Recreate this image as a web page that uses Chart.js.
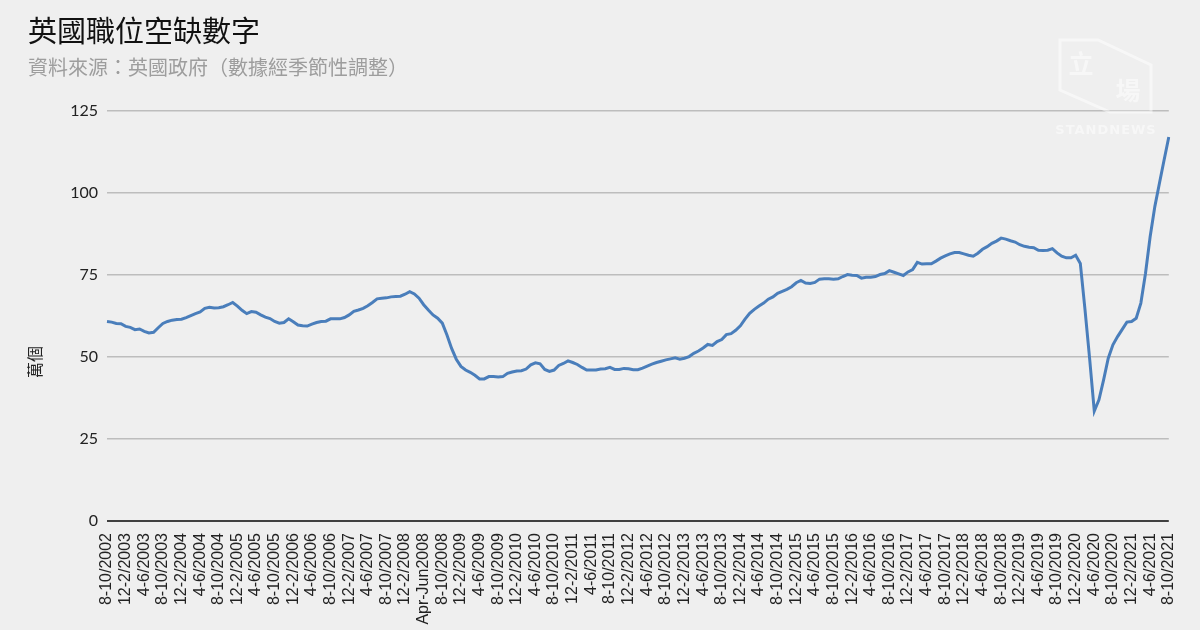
<!DOCTYPE html>
<html>
<head>
<meta charset="utf-8">
<script src="https://cdn.jsdelivr.net/npm/chart.js@4/dist/chart.umd.min.js"></script>
<style>
html,body{margin:0;padding:0;background:#efefef;}
#wrap{width:1200px;height:630px;position:relative;}
</style>
</head>
<body>
<div id="wrap"><canvas id="c" width="1200" height="630"></canvas></div>
<script>
const chartTitle = '英國職位空缺數字';
const chartSubtitle = '資料來源：英國政府（數據經季節性調整）';
const yAxisTitle = '萬個';
const yTicks = [0, 25, 50, 75, 100, 125];

// one label for every fourth rolling three-month period
const tickLabels = [
  '8-10/2002',
  '12-2/2003','4-6/2003','8-10/2003',
  '12-2/2004','4-6/2004','8-10/2004',
  '12-2/2005','4-6/2005','8-10/2005',
  '12-2/2006','4-6/2006','8-10/2006',
  '12-2/2007','4-6/2007','8-10/2007',
  '12-2/2008','Apr-Jun2008','8-10/2008',
  '12-2/2009','4-6/2009','8-10/2009',
  '12-2/2010','4-6/2010','8-10/2010',
  '12-2/2011','4-6/2011','8-10/2011',
  '12-2/2012','4-6/2012','8-10/2012',
  '12-2/2013','4-6/2013','8-10/2013',
  '12-2/2014','4-6/2014','8-10/2014',
  '12-2/2015','4-6/2015','8-10/2015',
  '12-2/2016','4-6/2016','8-10/2016',
  '12-2/2017','4-6/2017','8-10/2017',
  '12-2/2018','4-6/2018','8-10/2018',
  '12-2/2019','4-6/2019','8-10/2019',
  '12-2/2020','4-6/2020','8-10/2020',
  '12-2/2021','4-6/2021','8-10/2021'
];

// vacancies (ten-thousands), monthly rolling three-month periods, Aug-Oct 2002 .. Aug-Oct 2021
const vacancies = [
  60.8,60.6,60.2,60.1,59.3,59.0,58.3,58.5,57.8,57.3,57.5,58.9,
  60.2,60.8,61.2,61.4,61.5,62.0,62.6,63.2,63.7,64.8,65.1,64.9,
  65.0,65.3,65.9,66.6,65.5,64.2,63.2,63.8,63.6,62.8,62.1,61.7,
  60.8,60.3,60.5,61.6,60.7,59.7,59.5,59.4,60.0,60.5,60.8,60.9,
  61.6,61.6,61.6,62.0,62.8,63.9,64.3,64.8,65.6,66.6,67.7,67.9,
  68.0,68.3,68.4,68.5,69.1,69.9,69.2,67.9,65.9,64.3,62.8,61.8,
  60.3,56.7,52.6,49.3,47.1,46.0,45.3,44.4,43.3,43.3,44.0,44.0,
  43.9,44.0,45.0,45.4,45.7,45.8,46.3,47.6,48.2,47.9,46.2,45.6,
  46.0,47.4,48.0,48.8,48.3,47.7,46.8,46.0,46.0,46.0,46.3,46.4,
  46.8,46.2,46.2,46.5,46.4,46.1,46.1,46.6,47.2,47.8,48.3,48.7,
  49.1,49.4,49.7,49.3,49.6,50.1,51.1,51.8,52.7,53.8,53.5,54.7,
  55.3,56.8,57.1,58.1,59.5,61.5,63.3,64.5,65.5,66.4,67.6,68.3,
  69.4,70.0,70.6,71.4,72.6,73.3,72.5,72.4,72.7,73.7,73.8,73.8,
  73.7,73.8,74.5,75.1,74.9,74.8,74.0,74.3,74.3,74.5,75.1,75.4,
  76.3,75.8,75.3,74.8,75.9,76.6,78.8,78.3,78.4,78.4,79.2,80.1,
  80.8,81.4,81.8,81.8,81.4,81.0,80.7,81.6,82.8,83.6,84.6,85.3,
  86.2,85.9,85.4,85.0,84.2,83.7,83.4,83.3,82.5,82.4,82.5,83.0,
  81.7,80.7,80.2,80.2,81.0,78.5,64.5,49.5,33.5,36.9,43.0,49.6,
  53.7,56.2,58.4,60.6,60.8,61.8,66.4,75.5,86.7,95.8,103.0,110.1,
  117.0
];

const categories = vacancies.map((v, i) => (i % 4 === 0 ? tickLabels[i / 4] : ''));

const yTitlePlugin = {
  id: 'yTitlePlugin',
  afterDraw(chart) {
    const ctx = chart.ctx;
    ctx.save();
    ctx.translate(35, 362);
    ctx.rotate(-Math.PI / 2);
    ctx.font = "16px 'Noto Sans CJK TC'";
    ctx.fillStyle = '#222';
    ctx.textAlign = 'center';
    ctx.textBaseline = 'middle';
    ctx.fillText(yAxisTitle, 0, 0);
    ctx.restore();
  }
};

const watermarkPlugin = {
  id: 'watermarkPlugin',
  afterDraw(chart) {
    const ctx = chart.ctx;
    ctx.save();
    ctx.strokeStyle = 'rgba(255,255,255,0.5)';
    ctx.fillStyle = 'rgba(255,255,255,0.5)';
    ctx.lineWidth = 3;
    ctx.beginPath();
    ctx.moveTo(1060, 40);
    ctx.lineTo(1098, 40);
    ctx.lineTo(1151, 65);
    ctx.lineTo(1151, 112);
    ctx.lineTo(1110, 112);
    ctx.lineTo(1060, 90);
    ctx.closePath();
    ctx.stroke();
    ctx.font = "bold 25px 'Noto Sans CJK TC'";
    ctx.textAlign = 'center';
    ctx.textBaseline = 'middle';
    ctx.fillText('立', 1081, 63);
    ctx.fillText('場', 1128, 90);
    ctx.font = "bold 13px 'DejaVu Sans'";
    if ('letterSpacing' in ctx) ctx.letterSpacing = '1px';
    ctx.fillText('STANDNEWS', 1106, 131);
    ctx.restore();
  }
};

new Chart(document.getElementById('c'), {
  type: 'line',
  data: {
    labels: categories,
    datasets: [{
      data: vacancies,
      borderColor: '#4a7ebb',
      borderWidth: 3,
      pointRadius: 0,
      tension: 0,
      fill: false
    }]
  },
  options: {
    responsive: false,
    animation: false,
    devicePixelRatio: 1,
    layout: { padding: { left: 28, right: 26, top: 0, bottom: 0 } },
    plugins: {
      legend: { display: false },
      tooltip: { enabled: false },
      title: {
        display: true,
        text: chartTitle,
        align: 'start',
        color: '#111',
        font: { family: "'Noto Sans CJK TC'", size: 29, weight: 'normal' },
        padding: { top: 14, bottom: 7 }
      },
      subtitle: {
        display: true,
        text: chartSubtitle,
        align: 'start',
        color: '#9d9d9d',
        font: { family: "'Noto Sans CJK TC'", size: 20, weight: 'normal' },
        padding: { top: 0, bottom: 31 }
      }
    },
    scales: {
      x: {
        offset: false,
        grid: { display: false, drawTicks: false },
        border: { display: false },
        ticks: {
          autoSkip: false,
          maxRotation: 90,
          minRotation: 90,
          padding: 12,
          color: '#222',
          font: { family: "'Liberation Sans'", size: 16 }
        },
        afterFit(scale) { scale.height = 109; }
      },
      y: {
        min: yTicks[0],
        max: yTicks[yTicks.length - 1],
        afterBuildTicks(scale) { scale.ticks = yTicks.map(v => ({ value: v })); },
        grid: {
          drawTicks: false,
          lineWidth: (c) => (c.tick && c.tick.value === 0 ? 2 : 1.5),
          color: (c) => (c.tick && c.tick.value === 0 ? '#404040' : '#bdbdbd')
        },
        border: { display: false },
        ticks: {
          padding: 9,
          color: '#222',
          font: { family: "'Lato'", size: 16 }
        },
        afterFit(scale) { scale.width = 79; }
      }
    }
  },
  plugins: [yTitlePlugin, watermarkPlugin]
});
</script>
</body>
</html>
